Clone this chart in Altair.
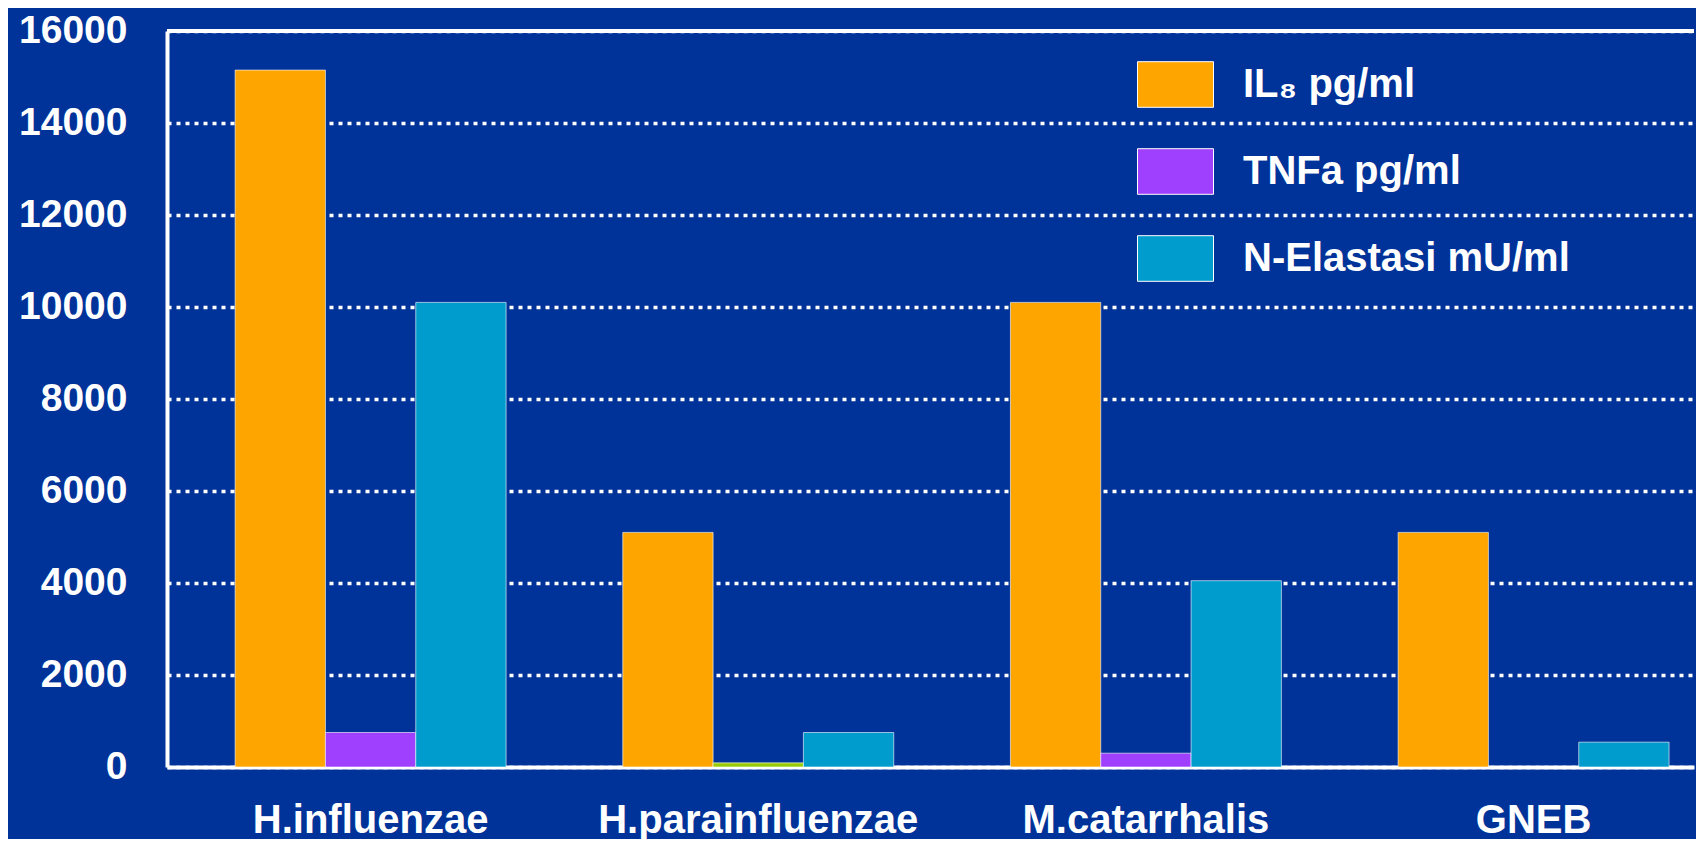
import altair as alt
import pandas as pd

categories = ["H.influenzae", "H.parainfluenzae", "M.catarrhalis", "GNEB"]
series_names = ["IL\u2088 pg/ml", "TNFa pg/ml", "N-Elastasi mU/ml"]
il8 = [15150, 5100, 10100, 5100]
tnfa = [750, 90, 300, 0]
elastasi = [10100, 750, 4050, 540]
y_ticks = [0, 2000, 4000, 6000, 8000, 10000, 12000, 14000, 16000]
colors = ["#FFA500", "#A040FF", "#009CCD"]

rows = []
for s, vals in zip(series_names, [il8, tnfa, elastasi]):
    for c, v in zip(categories, vals):
        rows.append({"category": c, "series": s, "value": v})
df = pd.DataFrame(rows)

FONT = "Liberation Sans"

rect_path = "M-1,-0.6L1,-0.6L1,0.6L-1,0.6Z"

bars = alt.Chart(df).mark_bar(
    stroke="white", strokeWidth=1, strokeOpacity=0.6
).encode(
    x=alt.X(
        "category:N",
        sort=categories,
        scale=alt.Scale(paddingInner=0.301, paddingOuter=0.12, align=0.732),
        axis=alt.Axis(
            title=None, labelAngle=0, labelFont=FONT, labelFontSize=40,
            labelFontWeight="bold", labelColor="white", ticks=False, tickSize=0,
            labelPadding=65, labelBaseline="alphabetic", domainColor="white",
            domainWidth=4, grid=False, labelLimit=0
        ),
    ),
    xOffset=alt.XOffset("series:N", sort=series_names,
                        scale=alt.Scale(paddingInner=0, paddingOuter=0)),
    y=alt.Y(
        "value:Q",
        scale=alt.Scale(domain=[0, 16000], nice=False),
        axis=alt.Axis(
            title=None, values=y_ticks, format="d", labelFont=FONT,
            labelFontSize=39, labelFontWeight="bold", labelColor="white",
            ticks=False, tickSize=0, labelPadding=40, labelOffset=-1,
            domainColor="white", domainWidth=4, grid=True, gridColor="white",
            gridDash=[4, 5], gridWidth=3.5, gridOpacity=1
        ),
    ),
    color=alt.condition(
        "datum.category == 'H.parainfluenzae' && datum.series == 'TNFa pg/ml'",
        alt.value("#99CC00"),
        alt.Color(
            "series:N",
            sort=series_names,
            scale=alt.Scale(domain=series_names, range=colors),
            legend=alt.Legend(
                title=None, orient="none", legendX=970, legendY=15,
                symbolType=rect_path, symbolSize=5776, symbolStrokeColor="white",
                symbolStrokeWidth=1, symbolOpacity=1, labelFont=FONT,
                labelFontSize=40, labelFontWeight="bold", labelColor="white",
                labelOffset=29, labelLimit=0, rowPadding=23, padding=0,
            ),
        ),
    ),
)

top_rule = alt.Chart(df).mark_rule(color="white", strokeWidth=4).encode(
    y=alt.datum(16000)
)

chart = alt.layer(top_rule, bars).properties(
    width=1527,
    height=736,
    padding={"left": 159, "top": 23, "right": 2, "bottom": 72},
    autosize=alt.AutoSizeParams(type="none"),
).configure(background="#003399").configure_view(stroke=None)

chart.save("out.html", embed_options={"renderer": "svg", "actions": False})
